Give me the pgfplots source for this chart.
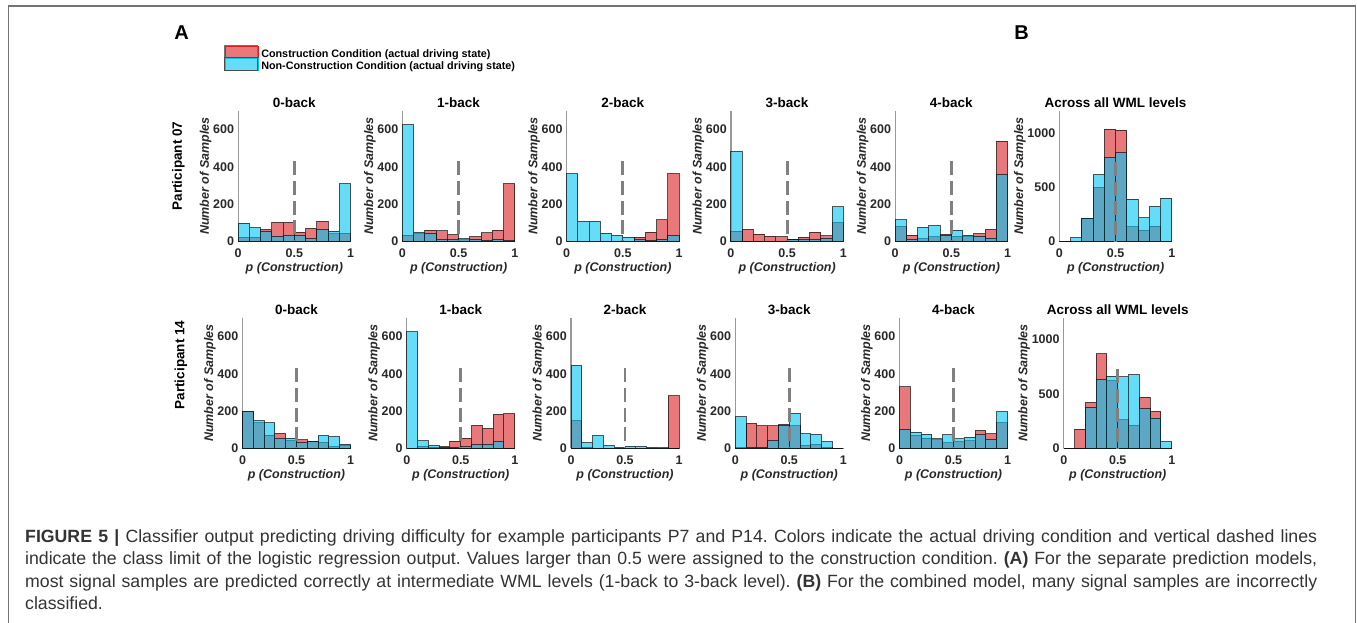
\documentclass[border=0pt]{standalone}
\usepackage{fontspec}
\setmainfont{Liberation Sans}
\usepackage{pgfplots}
\usepackage{pgfplotstable}
\pgfplotsset{compat=1.18}

\definecolor{cred}{RGB}{217,30,33}
\definecolor{cblue}{RGB}{0,198,243}
\definecolor{tickc}{RGB}{40,40,40}
\newcommand{\fs}[1]{\fontsize{#1}{#1}\selectfont}

% bins of width 0.1 (left edge), con = construction, non = non-construction
% last row repeats the 0.9 bin as the closing edge at 1.0
\pgfplotstableread{
x con non
0.0 23 98
0.1 23 72
0.2 65 55
0.3 102 27
0.4 102 32
0.5 50 32
0.6 70 14
0.7 108 63
0.8 40 55
0.9 45 309
1.0 45 309
}\pZero
\pgfplotstableread{
x con non
0.0 33 627
0.1 40 48
0.2 60 45
0.3 56 8
0.4 36 9
0.5 10 15
0.6 26 12
0.7 46 5
0.8 60 12
0.9 310 4
1.0 310 4
}\pOne
\pgfplotstableread{
x con non
0.0 0 362
0.1 0 107
0.2 0 107
0.3 0 45
0.4 0 32
0.5 2 23
0.6 23 8
0.7 50 4
0.8 116 12
0.9 364 32
1.0 364 32
}\pTwo
\pgfplotstableread{
x con non
0.0 55 483
0.1 64 0
0.2 39 0
0.3 28 0
0.4 25 0
0.5 12 10
0.6 23 10
0.7 50 10
0.8 30 16
0.9 101 185
1.0 101 185
}\pThree
\pgfplotstableread{
x con non
0.0 80 115
0.1 33 11
0.2 15 75
0.3 24 84
0.4 38 30
0.5 27 60
0.6 24 33
0.7 42 27
0.8 64 18
0.9 538 358
1.0 538 358
}\pFour
\pgfplotstableread{
x con non
0.0 0 0
0.1 0 34
0.2 210 215
0.3 497 615
0.4 1034 770
0.5 1025 817
0.6 134 388
0.7 102 217
0.8 140 323
0.9 0 398
1.0 0 398
}\pAll
\pgfplotstableread{
x con non
0.0 197 200
0.1 137 148
0.2 71 137
0.3 80 50
0.4 41 54
0.5 45 30
0.6 34 36
0.7 32 68
0.8 9 63
0.9 15 22
1.0 15 22
}\qZero
\pgfplotstableread{
x con non
0.0 0 625
0.1 10 40
0.2 6 16
0.3 9 5
0.4 39 5
0.5 54 9
0.6 123 18
0.7 107 21
0.8 182 34
0.9 186 0
1.0 186 0
}\qOne
\pgfplotstableread{
x con non
0.0 148 445
0.1 6 30
0.2 0 68
0.3 0 14
0.4 0 5
0.5 0 12
0.6 0 10
0.7 0 5
0.8 0 2
0.9 282 0
1.0 282 0
}\qTwo
\pgfplotstableread{
x con non
0.0 5 170
0.1 134 5
0.2 120 5
0.3 120 41
0.4 128 122
0.5 121 188
0.6 16 77
0.7 21 75
0.8 5 36
0.9 0 0
1.0 0 0
}\qThree
\pgfplotstableread{
x con non
0.0 330 101
0.1 69 87
0.2 54 76
0.3 47 51
0.4 29 72
0.5 36 51
0.6 40 60
0.7 96 74
0.8 78 47
0.9 136 195
1.0 136 195
}\qFour
\pgfplotstableread{
x con non
0.0 0 0
0.1 176 0
0.2 423 380
0.3 870 633
0.4 620 665
0.5 262 657
0.6 210 679
0.7 472 364
0.8 340 278
0.9 0 62
1.0 0 62
}\qAll

\pgfplotsset{
  hist/.style={
    scale only axis, width=112.3pt, height=130.4pt,
    xmin=0, xmax=1, ymin=0, ymax=700,
    enlargelimits=false, clip=false,
    axis x line=bottom, axis y line=left,
    axis line style={black!40, line width=1.3pt, -},
    xtick={0,0.5,1}, ytick={0,200,400,600},
    major tick length=0pt,
    tick label style={font=\fs{12.5}\bfseries, text=tickc},
    /pgf/number format/assume math mode=true,
    /pgf/number format/1000 sep={},
    scaled ticks=false,
    x tick label style={anchor=north, inner sep=0pt, yshift=-7pt},
    y tick label style={anchor=east, inner sep=0pt, xshift=-4pt},
    xlabel={p (Construction)}, ylabel={Number of Samples},
    label style={font=\fs{12.5}\bfseries\itshape, text=tickc},
    xlabel style={inner sep=5pt},
    ylabel style={inner sep=1.5pt},
    every axis title shift=0pt,
    title style={font=\fs{13.5}\bfseries, anchor=base, at={(axis description cs:0.5,1)}, yshift=3.2pt},
  },
  wide/.style={ymax=1200, ytick={0,500,1000}},
  rowtwo/.style={width=108pt},
  conbar/.style={ybar interval, fill=cred, fill opacity=0.6, draw=black, draw opacity=0.65, line width=1pt},
  nonbar/.style={ybar interval, fill=cblue, fill opacity=0.6, draw=black, draw opacity=0.65, line width=1pt},
  limit/.style={black!50, line width=2.8pt, dash pattern=on 14pt off 5.7pt},
}

\newcommand{\panel}[5]{% position, extra options, title, table, dash top
  \begin{axis}[hist, at={#1}, anchor=south west, #2, title={#3}]
    \addplot[conbar] table[x=x, y=con] {#4};
    \addplot[nonbar] table[x=x, y=non] {#4};
    \addplot[limit] coordinates {(0.5,#5) (0.5,0)};
  \end{axis}}

\begin{document}
\frenchspacing
\begin{tikzpicture}[x=1pt, y=1pt]
\useasboundingbox (0,0) rectangle (1357,623);
\draw[black!55, line width=1.5pt] (8.5,-5) -- (8.5,617) -- (1355.5,617) -- (1355.5,-5);

% row 1: participant 07
\begin{axis}[hist, at={(238.2pt,381.6pt)}, anchor=south west, title={0-back},
  legend style={at={(axis description cs:-0.126,1.506)}, anchor=north west,
    draw=none, fill=none, inner sep=0pt, row sep=-4pt, column sep=3pt,
    font=\fs{10.8}\bfseries,
    nodes={inner sep=0pt, text height=8.5pt, text depth=3.5pt}},
  legend cell align=left]
  \addlegendimage{legend image code/.code={\fill[cred, fill opacity=0.6] (0pt,-3pt) rectangle (33pt,9.5pt); \draw[black!55, line width=1pt] (0pt,-3pt) rectangle (33pt,9.5pt);}}
  \addlegendentry{Construction Condition (actual driving state)}
  \addlegendimage{legend image code/.code={\fill[cblue, fill opacity=0.6] (0pt,-3pt) rectangle (33pt,9.5pt); \draw[black!70, line width=1pt] (0pt,-3pt) rectangle (33pt,9.5pt);}}
  \addlegendentry{Non-Construction Condition (actual driving state)}
  \addplot[conbar, forget plot] table[x=x, y=con] {\pZero};
  \addplot[nonbar, forget plot] table[x=x, y=non] {\pZero};
  \addplot[limit, forget plot] coordinates {(0.5,430) (0.5,0)};
\end{axis}
\panel{(402.45pt,381.6pt)}{}{1-back}{\pOne}{430}
\panel{(566.7pt,381.6pt)}{}{2-back}{\pTwo}{430}
\panel{(730.95pt,381.6pt)}{}{3-back}{\pThree}{430}
\panel{(895.2pt,381.6pt)}{}{4-back}{\pFour}{430}
\panel{(1059.45pt,381.6pt)}{wide}{Across all WML levels}{\pAll}{730}

% row 2: participant 14
\panel{(242.5pt,174.7pt)}{rowtwo}{0-back}{\qZero}{430}
\panel{(406.75pt,174.7pt)}{rowtwo}{1-back}{\qOne}{430}
\panel{(571pt,174.7pt)}{rowtwo}{2-back}{\qTwo}{430}
\panel{(735.25pt,174.7pt)}{rowtwo}{3-back}{\qThree}{430}
\panel{(899.5pt,174.7pt)}{rowtwo}{4-back}{\qFour}{430}
\panel{(1063.75pt,174.7pt)}{rowtwo,wide}{Across all WML levels}{\qAll}{730}

\node[font=\fs{13.5}\bfseries, rotate=90] at (178.5,457) {Participant 07};
\node[font=\fs{13.5}\bfseries, rotate=90] at (181,258) {Participant 14};
\node[font=\fs{20}\bfseries] at (181.7,590) {A};
\node[font=\fs{20}\bfseries] at (1021.5,590) {B};

% caption
\begin{scope}[every node/.style={anchor=base west, inner sep=0pt, text=black!80, font=\fs{17.7}}]
\node at (25,80.3) {\hbox to 1292pt{\textbf{FIGURE 5 |} Classifier output predicting driving difficulty for example participants P7 and P14. Colors indicate the actual driving condition and vertical dashed lines}};
\node at (25,58) {\hbox to 1292pt{indicate the class limit of the logistic regression output. Values larger than 0.5 were assigned to the construction condition. \textbf{(A)} For the separate prediction models,}};
\node at (25,35.7) {\hbox to 1292pt{most signal samples are predicted correctly at intermediate WML levels (1-back to 3-back level). \textbf{(B)} For the combined model, many signal samples are incorrectly}};
\node at (25,13.4) {classified.};
\end{scope}
\end{tikzpicture}
\end{document}
